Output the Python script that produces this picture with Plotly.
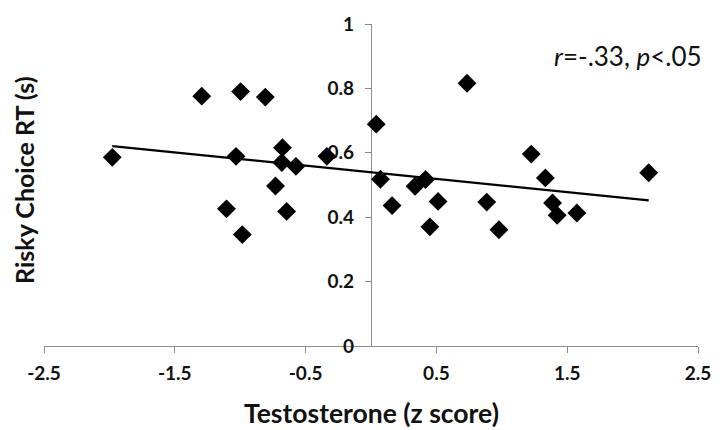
import plotly.graph_objects as go

# Data
testosterone_z = [-1.978, -1.294, -0.997, -0.808, -1.032, -1.105, -0.984, -0.677, -0.682,
                  -0.574, -0.730, -0.645, -0.337, 0.040, 0.072, 0.161, 0.337, 0.417,
                  0.450, 0.513, 0.734, 0.885, 0.978, 1.225, 1.333, 1.388, 1.423, 1.574, 2.123]
risky_rt = [0.586, 0.776, 0.790, 0.773, 0.589, 0.426, 0.346, 0.616, 0.570,
            0.558, 0.497, 0.418, 0.589, 0.689, 0.518, 0.436, 0.496, 0.517,
            0.370, 0.449, 0.816, 0.447, 0.361, 0.596, 0.522, 0.444, 0.406, 0.413, 0.538]

trend_x = [-1.978, 2.123]
trend_y = [0.621, 0.452]

x_ticks = [-2.5, -1.5, -0.5, 0.5, 1.5, 2.5]
x_tick_labels = ["-2.5", "-1.5", "-0.5", "0.5", "1.5", "2.5"]
y_ticks = [0, 0.2, 0.4, 0.6, 0.8, 1.0]
y_tick_labels = ["0", "0.2", "0.4", "0.6", "0.8", "1"]

x_title = "Testosterone (z score)"
y_title = "Risky Choice RT (s)"
stat_text = "<i>r</i>=-.33, <i>p</i>&lt;.05"

TXT = "#111111"
AX = "#8a8a8a"
FONT = "Lato"

fig = go.Figure()
fig.add_trace(go.Scatter(x=trend_x, y=trend_y, mode="lines",
                         line=dict(color="black", width=2.3), showlegend=False))
fig.add_trace(go.Scatter(x=testosterone_z, y=risky_rt, mode="markers",
                         marker=dict(symbol="diamond", size=14.5, color="black",
                                     line=dict(width=0)),
                         showlegend=False))

fig.update_layout(
    width=723, height=430,
    margin=dict(l=44, r=16, t=17, b=84),
    paper_bgcolor="white", plot_bgcolor="white",
    font=dict(family=FONT, color=TXT),
    xaxis=dict(range=[-2.5, 2.5], tickvals=x_ticks,
               ticktext=["<b>%s</b>" % t for t in x_tick_labels],
               ticks="outside", ticklen=6, tickwidth=1, tickcolor=AX,
               showline=True, linecolor=AX, linewidth=1.3,
               showgrid=False, zeroline=False, layer="below traces",
               tickfont=dict(family=FONT, size=19, color=TXT),
               ticklabelstandoff=4),
    yaxis=dict(range=[0, 1], tickvals=y_ticks,
               ticktext=["<b>%s</b>" % t for t in y_tick_labels],
               anchor="free", position=0.5, side="left",
               ticks="outside", ticklen=6, tickwidth=1, tickcolor=AX,
               showline=True, linecolor=AX, linewidth=1.3,
               showgrid=False, zeroline=False, layer="below traces",
               tickfont=dict(family=FONT, size=19, color=TXT),
               ticklabelstandoff=7),
    annotations=[
        dict(text=stat_text, xref="paper", yref="paper",
             x=(713 - 44) / 663, y=(346 - 50) / 329, xanchor="right", yanchor="middle",
             showarrow=False, font=dict(family=FONT, size=26, color=TXT)),
        dict(text="<b>%s</b>" % y_title, xref="paper", yref="paper",
             x=(23 - 44) / 663, y=(346 - 177) / 329, xanchor="center", yanchor="middle",
             textangle=-90, showarrow=False,
             font=dict(family=FONT, size=25, color=TXT)),
        dict(text="<b>%s</b>" % x_title, xref="paper", yref="paper",
             x=(375.5 - 44) / 663, y=(346 - 414) / 329, xanchor="center", yanchor="middle",
             showarrow=False,
             font=dict(family=FONT, size=26.5, color=TXT)),
    ],
)

fig.write_html("out.html")
